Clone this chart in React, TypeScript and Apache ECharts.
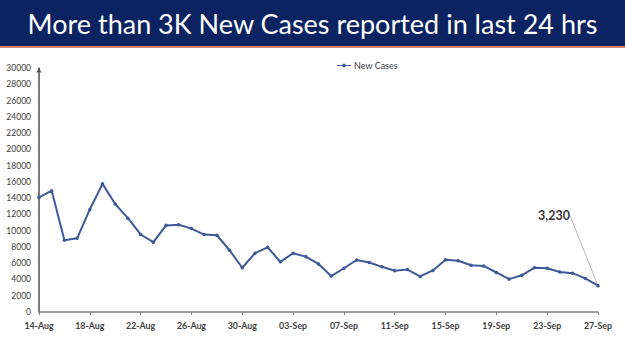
import React, { useEffect, useRef } from "react";
import * as echarts from "echarts";

const titleText = "More than 3K New Cases reported in last 24 hrs";
const seriesName = "New Cases";

const dates = [
  "14-Aug", "15-Aug", "16-Aug", "17-Aug", "18-Aug", "19-Aug", "20-Aug", "21-Aug",
  "22-Aug", "23-Aug", "24-Aug", "25-Aug", "26-Aug", "27-Aug", "28-Aug", "29-Aug",
  "30-Aug", "31-Aug", "01-Sep", "02-Sep", "03-Sep", "04-Sep", "05-Sep", "06-Sep",
  "07-Sep", "08-Sep", "09-Sep", "10-Sep", "11-Sep", "12-Sep", "13-Sep", "14-Sep",
  "15-Sep", "16-Sep", "17-Sep", "18-Sep", "19-Sep", "20-Sep", "21-Sep", "22-Sep",
  "23-Sep", "24-Sep", "25-Sep", "26-Sep", "27-Sep",
];

const newCases = [
  14092, 14917, 8813, 9062, 12608, 15754, 13272, 11539,
  9531, 8586, 10649, 10725, 10256, 9520, 9436, 7591,
  5439, 7231, 7946, 6168, 7219, 6809, 5910, 4417,
  5379, 6395, 6093, 5554, 5076, 5221, 4369, 5108,
  6422, 6298, 5747, 5664, 4858, 4043, 4510, 5443,
  5383, 4912, 4777, 4129, 3230,
];

const yMax = 30000;
const yStep = 2000;
const xLabelEvery = 4;

export default function App() {
  const ref = useRef<HTMLDivElement>(null);

  useEffect(() => {
    document.body.style.margin = "0";
    if (!ref.current) return;
    const chart = echarts.init(ref.current, null, { renderer: "svg" });
    const lastIdx = newCases.length - 1;
    const data = newCases.map((v, i) =>
      i === lastIdx
        ? {
            value: v,
            label: {
              show: true,
              formatter: (p: any) => Number(p.value).toLocaleString("en-US"),
              fontFamily: "Lato",
              fontWeight: "bold",
              fontSize: 12.5,
              color: "#3a3a3a",
              position: "top",
            },
            labelLine: { show: true, lineStyle: { color: "#b8b8b8", width: 1 } },
          }
        : v
    );
    chart.setOption({
      animation: false,
      backgroundColor: "#ffffff",
      graphic: [
        { type: "rect", shape: { x: 0, y: 0, width: 625, height: 46 }, style: { fill: "#0b2461" }, z: 0 },
        { type: "rect", shape: { x: 0, y: 46, width: 625, height: 2 }, style: { fill: "#d9826a" }, z: 0 },
      ],
      title: {
        text: titleText,
        left: "center",
        top: 5,
        textStyle: { color: "#ffffff", fontFamily: "Lato", fontWeight: "normal", fontSize: 27 },
      },
      legend: {
        top: 56,
        left: 332,
        itemWidth: 14,
        itemHeight: 5,
        itemGap: 4,
        data: [
          {
            name: seriesName,
            icon: "path://M0,2L14,2L14,3L0,3Z M5.5,0.8L8.5,0.8L8.5,4.2L5.5,4.2Z",
          },
        ],
        textStyle: { fontFamily: "Lato", fontSize: 9, color: "#404040", padding: [0, 0, 0, -2] },
      },
      grid: { left: 39, right: 27, top: 68, bottom: 39 },
      xAxis: {
        type: "category",
        data: dates,
        boundaryGap: false,
        axisLine: { lineStyle: { color: "#7f7f7f", width: 1.5 } },
        axisTick: { interval: xLabelEvery - 1, length: 3, lineStyle: { color: "#7f7f7f" } },
        axisLabel: {
          interval: xLabelEvery - 1,
          fontFamily: "Lato",
          fontWeight: "bold",
          fontSize: 8.8,
          color: "#404040",
          margin: 9,
        },
        splitLine: { show: false },
      },
      yAxis: {
        type: "value",
        min: 0,
        max: yMax,
        interval: yStep,
        axisLine: {
          show: true,
          symbol: ["none", "arrow"],
          symbolSize: [4, 5],
          lineStyle: { color: "#4d4d4d", width: 1.5 },
        },
        axisTick: { show: false },
        axisLabel: {
          formatter: (v: number) => String(v),
          fontFamily: "Lato",
          fontSize: 8.5,
          color: "#404040",
          margin: 8,
        },
        splitLine: { show: false },
      },
      series: [
        {
          name: seriesName,
          type: "line",
          data,
          symbol: "circle",
          symbolSize: 3.5,
          itemStyle: { color: "#3d5a98" },
          lineStyle: { color: "#3d5a98", width: 2 },
          labelLayout: (p: any) =>
            p.dataIndex === lastIdx ? { dx: -44, dy: -57 } : {},
          labelLine: { show: true, lineStyle: { color: "#b8b8b8", width: 1 } },
        },
      ],
    });
    return () => chart.dispose();
  }, []);

  return <div ref={ref} style={{ width: 625, height: 351 }} />;
}
